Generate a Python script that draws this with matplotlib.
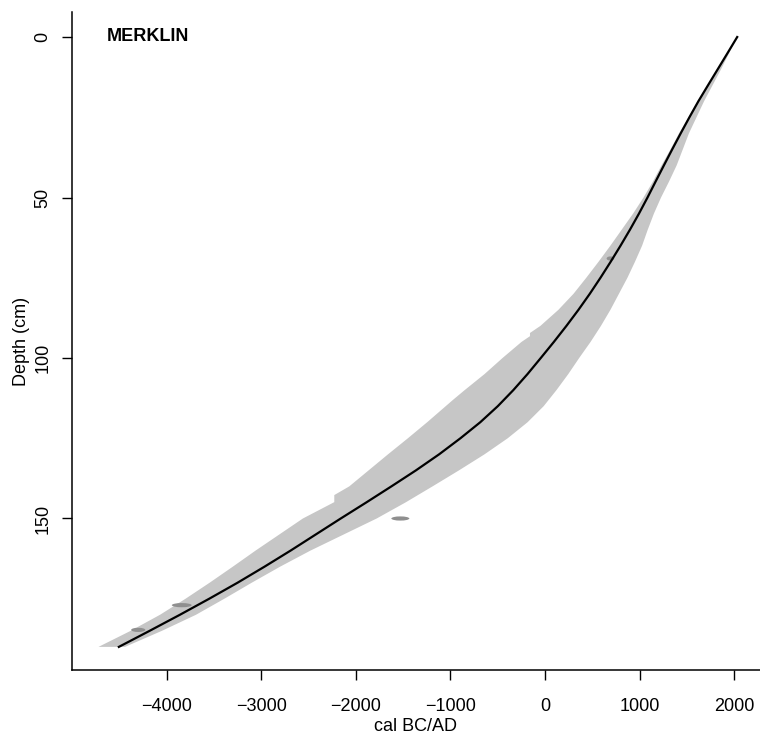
import numpy as np
import matplotlib
matplotlib.use('Agg')
import matplotlib.pyplot as plt
from matplotlib.patches import Ellipse

plt.rcParams['font.family'] = ['Liberation Sans', 'DejaVu Sans']

# mean age-depth model (cal BC/AD vs depth in cm)
line_depth = [0, 5, 10, 15, 20, 25, 30, 35, 40, 45, 50, 55, 60, 65, 70, 75, 80, 85, 90, 95,
              100, 105, 110, 115, 120, 125, 130, 135, 140, 145, 150, 155, 160, 165, 170, 175,
              180, 185, 190]
line_age = [2030, 1928, 1825, 1722, 1620, 1525, 1433, 1343, 1255, 1168, 1082, 992, 897, 797,
            693, 585, 472, 352, 225, 92, -46, -186, -336, -500, -685, -895, -1120, -1365,
            -1625, -1890, -2160, -2425, -2690, -2965, -3250, -3550, -3860, -4180, -4505]

# grey uncertainty envelope: older (left) and younger (right) limits
left_depth = [0, 5, 10, 15, 20, 25, 30, 35, 40, 45, 50, 55, 60, 65, 70, 75, 80, 85, 90, 92.2,
              93.2, 95, 100, 105, 110, 113, 120, 125, 130, 135, 140, 142.7, 144.9, 150, 155,
              160, 165, 170, 175, 180, 185, 190]
left_age = [2030, 1930, 1825, 1718, 1612, 1515, 1415, 1325, 1230, 1140, 1040, 930, 810, 690,
            565, 435, 300, 140, -50, -160, -160, -250, -450, -640, -850, -972, -1246, -1450,
            -1660, -1865, -2070, -2228, -2228, -2560, -2810, -3060, -3300, -3545, -3800,
            -4070, -4380, -4720]
right_depth = [0, 5, 10, 15, 20, 25, 30, 35, 40, 45, 50, 55, 60, 65, 70, 75, 80, 85, 90, 95,
               100, 105, 110, 115, 120, 125, 130, 135, 140, 145, 150, 155, 160, 165, 170, 175,
               180, 185, 190]
right_age = [2030, 1945, 1860, 1770, 1680, 1600, 1520, 1455, 1390, 1310, 1225, 1150, 1085,
             1025, 950, 870, 780, 690, 590, 480, 360, 245, 120, -15, -185, -395, -640, -910,
             -1190, -1475, -1780, -2130, -2480, -2800, -3100, -3390, -3690, -4050, -4440]

# calibrated dates (small grey shapes)
date_age = [690, -1530, -3840, -4300]
date_depth = [69, 150, 177, 184.7]
date_width = [80, 190, 210, 150]

fig = plt.figure(figsize=(7.6, 7.35), dpi=100)
ax = fig.add_axes([72/760, 65/735, 688/760, 658/735])

poly_x = np.concatenate([left_age, right_age[::-1]])
poly_y = np.concatenate([left_depth, right_depth[::-1]])
ax.fill(poly_x, poly_y, color='#c6c6c6', lw=0, zorder=1)

for a, d, w in zip(date_age, date_depth, date_width):
    ax.add_patch(Ellipse((a, d), w, 1.3, color='#8f8f8f', lw=0, zorder=2))

ax.plot(line_age, line_depth, color='black', lw=1.6, zorder=3)

ax.set_xlim(-5000, 2271)
ax.set_ylim(197.2, -7.8)
ax.set_xticks([-4000, -3000, -2000, -1000, 0, 1000, 2000])
ax.set_yticks([0, 50, 100, 150])

for s in ['top', 'right']:
    ax.spines[s].set_visible(False)
for s in ['left', 'bottom']:
    ax.spines[s].set_linewidth(1.1)

ax.tick_params(axis='both', direction='out', length=7.5, width=1.0, labelsize=13)
ax.tick_params(axis='x', pad=13)
ax.tick_params(axis='y', pad=7.5, labelrotation=90)
for lab in ax.get_yticklabels():
    lab.set_verticalalignment('center')

ax.set_xlabel('cal BC/AD', fontsize=13, labelpad=1.5)
ax.set_ylabel('Depth (cm)', fontsize=13, labelpad=3)

ax.text(0.051, 0.963, 'MERKLIN', transform=ax.transAxes, fontsize=13,
        fontweight='bold', ha='left', va='center')

fig.savefig('out.png', dpi=100)
